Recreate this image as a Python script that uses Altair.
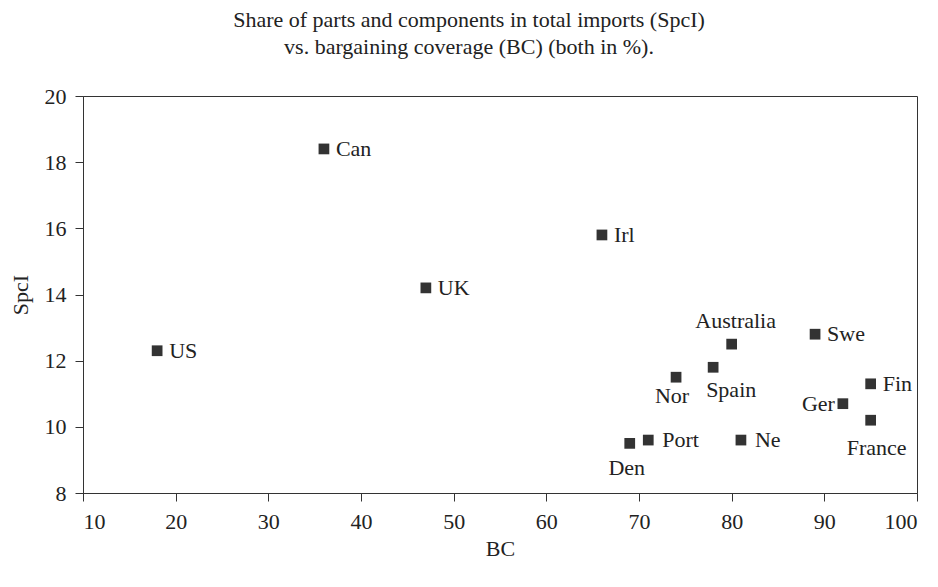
import altair as alt
import pandas as pd

countries = ["US", "Can", "UK", "Irl", "Australia", "Spain", "Nor", "Swe",
             "Fin", "Ger", "France", "Den", "Port", "Ne"]
bc = [18, 36, 47, 66, 80, 78, 74, 89, 95, 92, 95, 69, 71, 81]
spci = [12.3, 18.4, 14.2, 15.8, 12.5, 11.8, 11.5, 12.8, 11.3, 10.7, 10.2, 9.5, 9.6, 9.6]

df = pd.DataFrame({"country": countries, "BC": bc, "SpcI": spci})

FONT = "Liberation Serif"
INK = "#333333"

x = alt.X("BC:Q", title="BC",
          scale=alt.Scale(domain=[10, 100], nice=False, zero=False),
          axis=alt.Axis(values=list(range(10, 101, 10)), grid=False,
                        labelPadding=10, titlePadding=6))
y = alt.Y("SpcI:Q", title="SpcI",
          scale=alt.Scale(domain=[8, 20], nice=False, zero=False),
          axis=alt.Axis(values=list(range(8, 21, 2)), grid=False,
                        labelPadding=9, titlePadding=12))

base = alt.Chart(df).encode(x=x, y=y)

points = base.mark_point(shape="square", filled=True, size=115, color=INK, opacity=1)

placement = {
    "right": (["US", "Can", "UK", "Irl", "Swe", "Fin"], "left", 12, 0),
    "right2": (["Port", "Ne"], "left", 14, 0),
    "ger": (["Ger"], "right", -8, 0),
    "aus": (["Australia"], "center", 4, -23),
    "nor": (["Nor"], "center", -4, 19),
    "spain": (["Spain"], "left", -7, 23),
    "den": (["Den"], "center", -3, 25),
    "france": (["France"], "center", 6, 28),
}

layers = [points]
for key, (names, align, dx, dy) in placement.items():
    layers.append(
        base.transform_filter(alt.FieldOneOfPredicate(field="country", oneOf=names))
        .mark_text(align=align, baseline="middle", dx=dx, dy=dy,
                   font=FONT, fontSize=22, color="#222222")
        .encode(text="country:N")
    )

chart = alt.layer(*layers).properties(
    width=834, height=397,
    autosize=alt.AutoSizeParams(type="none"),
    padding={"left": 75, "top": 88, "right": 13, "bottom": 80},
    title=alt.TitleParams(
        text=["Share of parts and components in total imports (SpcI)",
              "vs. bargaining coverage (BC) (both in %)."],
        font=FONT, fontSize=22, fontWeight="normal", color="#222222",
        anchor="middle", dx=-31, offset=26, lineHeight=27),
).configure_view(
    stroke=INK, strokeWidth=1
).configure_axis(
    domainColor=INK, tickColor=INK, tickSize=8,
    labelFont=FONT, labelFontSize=22, labelColor="#222222",
    titleFont=FONT, titleFontSize=22, titleFontWeight="normal", titleColor="#222222",
)

chart.save("out.html", embed_options={"renderer": "svg", "actions": False})
